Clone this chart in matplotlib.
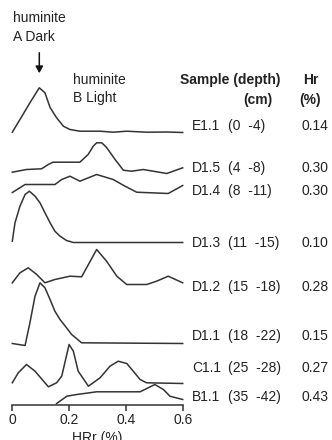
import matplotlib
matplotlib.use("Agg")
import matplotlib.pyplot as plt

plt.rcParams['font.family'] = ['Liberation Sans', 'DejaVu Sans']

W, H = 332, 440
TXT = '#222222'
LINE = '#333333'

samples = ["E1.1", "D1.5", "D1.4", "D1.3", "D1.2", "D1.1", "C1.1", "B1.1"]
depths = ["(0  -4)", "(4  -8)", "(8  -11)", "(11  -15)", "(15  -18)", "(18  -22)", "(25  -28)", "(35  -42)"]
hr_values = ["0.14", "0.30", "0.30", "0.10", "0.28", "0.15", "0.27", "0.43"]

# vertical offset of each reflectance histogram (arbitrary units above the x axis)
offsets = [272, 230, 211, 162, 118, 61, 21, 1]

x_E11 = [0, 0.027, 0.062, 0.095, 0.115, 0.133, 0.156, 0.18, 0.203, 0.238, 0.309, 0.355, 0.403, 0.473, 0.544, 0.6]
y_E11 = [0.3, 13, 29.7, 44.7, 39.7, 25, 14.7, 6.3, 3, 1.3, 1.3, 0.3, 1.3, 0.3, 0.5, 0]

x_D15 = [0, 0.05, 0.103, 0.127, 0.143, 0.238, 0.267, 0.285, 0.297, 0.315, 0.332, 0.362, 0.391, 0.42, 0.461, 0.496, 0.544, 0.6]
y_D15 = [2.3, 5, 5.7, 10, 12.3, 12.3, 20, 28.3, 31.7, 31.7, 27, 15, 4.3, 3.3, 5, 3.3, 1, 6.7]

x_D14 = [0, 0.045, 0.15, 0.174, 0.203, 0.238, 0.297, 0.355, 0.397, 0.438, 0.549, 0.6]
y_D14 = [1, 9, 9, 14, 17.3, 12.3, 19, 14, 7.3, 1.3, 0, 8]

x_D13 = [0, 0.0095, 0.027, 0.045, 0.06, 0.08, 0.0975, 0.115, 0.133, 0.15, 0.168, 0.191, 0.215, 0.6]
y_D13 = [1.3, 19.7, 36.3, 48, 51.3, 46.3, 39.7, 29.7, 19.7, 11.3, 6.3, 2, 0, 0]

x_D12 = [0, 0.027, 0.056, 0.086, 0.115, 0.15, 0.203, 0.244, 0.268, 0.297, 0.332, 0.368, 0.403, 0.473, 0.508, 0.549, 0.6]
y_D12 = [3.7, 13.7, 18.7, 12, 3.7, 7, 10.3, 9.7, 22, 37, 25.3, 10.3, 2, 2, 5.3, 10.3, 3.7]

x_D11 = [0, 0.045, 0.062, 0.08, 0.0975, 0.115, 0.133, 0.15, 0.168, 0.191, 0.209, 0.244, 0.6]
y_D11 = [0, -2, 20.7, 47.3, 60.7, 55.7, 44, 32.3, 24, 15.7, 9, 0.7, 0]

x_C11 = [0, 0.021, 0.05, 0.08, 0.127, 0.156, 0.174, 0.2, 0.215, 0.232, 0.268, 0.309, 0.344, 0.373, 0.403, 0.426, 0.45, 0.473, 0.6]
y_C11 = [0.7, 10.7, 19, 12.3, -3.3, 0.7, 7.3, 39, 32.3, 12.3, -2.7, 5.7, 17.3, 22.3, 20, 12.3, 4, 0.7, 0]

x_B11 = [0.156, 0.192, 0.227, 0.297, 0.45, 0.502, 0.532, 0.555, 0.6]
y_B11 = [0, 7.3, 9, 11.7, 11.7, 19, 14, 7.3, 4]

curves = [(x_E11, y_E11), (x_D15, y_D15), (x_D14, y_D14), (x_D13, y_D13),
          (x_D12, y_D12), (x_D11, y_D11), (x_C11, y_C11), (x_B11, y_B11)]

x_ticks = [0, 0.2, 0.4, 0.6]
x_ticklabels = ["0", "0.2", "0.4", "0.6"]

FS = 10

fig = plt.figure(figsize=(W / 100, H / 100), dpi=100)
fig.patch.set_facecolor('white')

ax_l, ax_r, ax_b = 12.3, 182.7, 404.5
ax = fig.add_axes([ax_l / W, (H - ax_b) / H, (ax_r - ax_l) / W, ax_b / H])
ax.set_xlim(0, 0.6)
ax.set_ylim(0, ax_b)
for s in ['left', 'right', 'top']:
    ax.spines[s].set_visible(False)
ax.spines['bottom'].set_color(LINE)
ax.spines['bottom'].set_linewidth(1.1)
ax.set_yticks([])
ax.set_xticks(x_ticks)
ax.set_xticklabels(x_ticklabels)
ax.tick_params(axis='x', direction='out', length=4, width=1.1, color=LINE,
               labelsize=FS, labelcolor=TXT, pad=2)
ax.patch.set_alpha(0)

for (xs, ys), off in zip(curves, offsets):
    ax.plot(xs, [off + v for v in ys], color=LINE, lw=1.1, clip_on=False,
            solid_joinstyle='round')


def ftext(x, y, s, **kw):
    kw.setdefault('color', TXT)
    kw.setdefault('fontsize', FS)
    kw.setdefault('va', 'center')
    fig.text(x / W, 1 - y / H, s, **kw)


ftext(97, 431, "HRr (%)", ha='center', va='top')

ftext(13, 18, "huminite")
ftext(13, 37, "A Dark")
ftext(73, 80, "huminite")
ftext(73, 98, "B Light")
fig.add_artist(matplotlib.patches.FancyArrowPatch(
    (39.3 / W, 1 - 50 / H), (39.3 / W, 1 - 76 / H), transform=fig.transFigure,
    arrowstyle='-|>,head_length=4,head_width=2.2', color='#111111', lw=1.1,
    mutation_scale=1))

ftext(180, 80, "Sample (depth)", fontweight='bold')
ftext(303, 80, "Hr", fontweight='bold')
ftext(243, 100, "(cm)", fontweight='bold')
ftext(299, 100, "(%)", fontweight='bold')

label_y = [126, 168, 191, 243, 287, 336, 368, 397]
for s, d, h, y in zip(samples, depths, hr_values, label_y):
    ftext(192, y, s)
    ftext(228, y, d)
    ftext(301, y, h)

fig.savefig("out.png", dpi=100, facecolor='white')
